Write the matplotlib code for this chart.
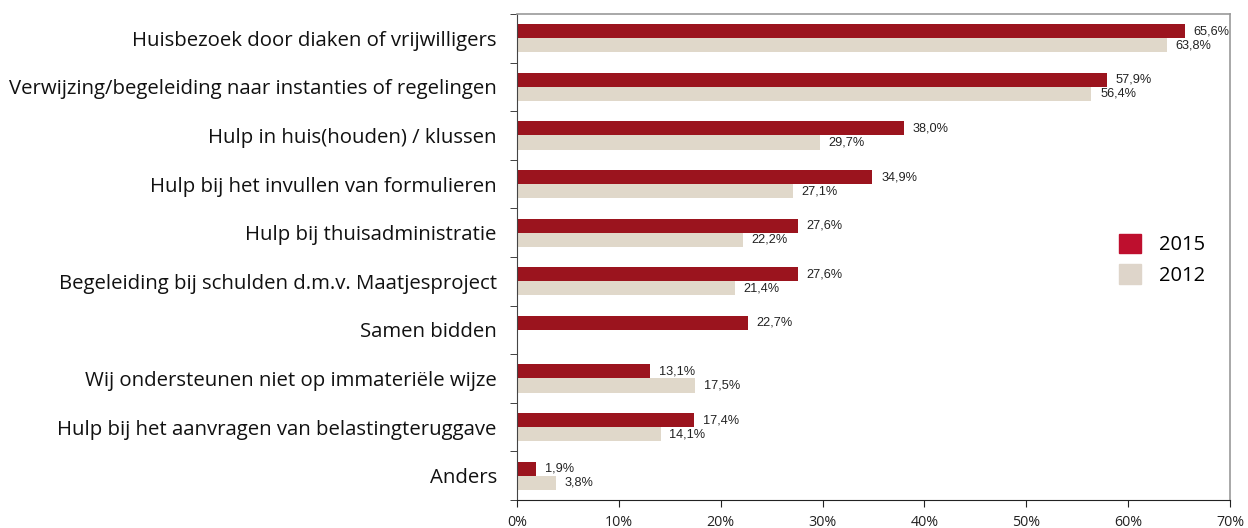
import matplotlib
matplotlib.use("Agg")
import matplotlib.pyplot as plt
import numpy as np
from matplotlib.patches import Patch

categories = [
    "Huisbezoek door diaken of vrijwilligers",
    "Verwijzing/begeleiding naar instanties of regelingen",
    "Hulp in huis(houden) / klussen",
    "Hulp bij het invullen van formulieren",
    "Hulp bij thuisadministratie",
    "Begeleiding bij schulden d.m.v. Maatjesproject",
    "Samen bidden",
    "Wij ondersteunen niet op immateriële wijze",
    "Hulp bij het aanvragen van belastingteruggave",
    "Anders",
]
values_2015 = [65.6, 57.9, 38.0, 34.9, 27.6, 27.6, 22.7, 13.1, 17.4, 1.9]
values_2012 = [63.8, 56.4, 29.7, 27.1, 22.2, 21.4, None, 17.5, 14.1, 3.8]
series_labels = ["2015", "2012"]
xticks = [0, 10, 20, 30, 40, 50, 60, 70]

c2015 = "#9B141E"
c2012 = "#E0D8CA"
leg2015 = "#BE0F2E"
leg2012 = "#DED5CA"

fig = plt.figure(figsize=(12.48, 5.28), dpi=100)
ax = fig.add_axes([517/1248, 1 - 500/528, (1230-517)/1248, (500-14)/528])

n = len(categories)
y = np.arange(n)
h = 0.29
for i in range(n):
    v1 = values_2015[i]
    v2 = values_2012[i]
    if v1 is not None:
        ax.barh(y[i] - h/2, v1, height=h, color=c2015, linewidth=0)
        ax.text(v1 + 0.85, y[i] - h/2, f"{v1:.1f}%".replace(".", ","), va="center", ha="left",
                fontsize=9.2, family="Liberation Sans", color="#222222")
    if v2 is not None:
        ax.barh(y[i] + h/2, v2, height=h, color=c2012, linewidth=0)
        ax.text(v2 + 0.85, y[i] + h/2, f"{v2:.1f}%".replace(".", ","), va="center", ha="left",
                fontsize=9.2, family="Liberation Sans", color="#222222")

ax.set_ylim(n - 0.5, -0.5)
ax.set_xlim(0, 70)
ax.set_xticks(xticks)
ax.set_xticklabels([f"{t}%" for t in xticks], family="Open Sans", fontsize=10.3, color="#222222")

ax.set_yticks(y)
ax.set_yticklabels(categories, family="Open Sans", fontsize=14.7, color="#111111")
ax.tick_params(axis="y", which="major", length=0, pad=14.5)
ax.set_yticks(np.arange(-0.5, n + 0.5, 1), minor=True)
ax.tick_params(axis="y", which="minor", length=5, color="#222222", direction="out")
ax.tick_params(axis="x", length=5, color="#222222", direction="out", pad=5.5)

for s in ["top", "right"]:
    ax.spines[s].set_color("#999999")
    ax.spines[s].set_linewidth(1.2)
ax.spines["left"].set_color("#444444")
ax.spines["bottom"].set_color("#222222")

handles = [Patch(color=leg2015, label=series_labels[0]), Patch(color=leg2012, label=series_labels[1])]
leg = ax.legend(handles=handles, loc="center left", bbox_to_anchor=(0.819, 0.494), frameon=False,
                prop={"family": "Open Sans", "size": 14.5}, handlelength=1.1, handleheight=1.1,
                handletextpad=0.9, labelspacing=0.45)

fig.savefig("out.png", dpi=100)
